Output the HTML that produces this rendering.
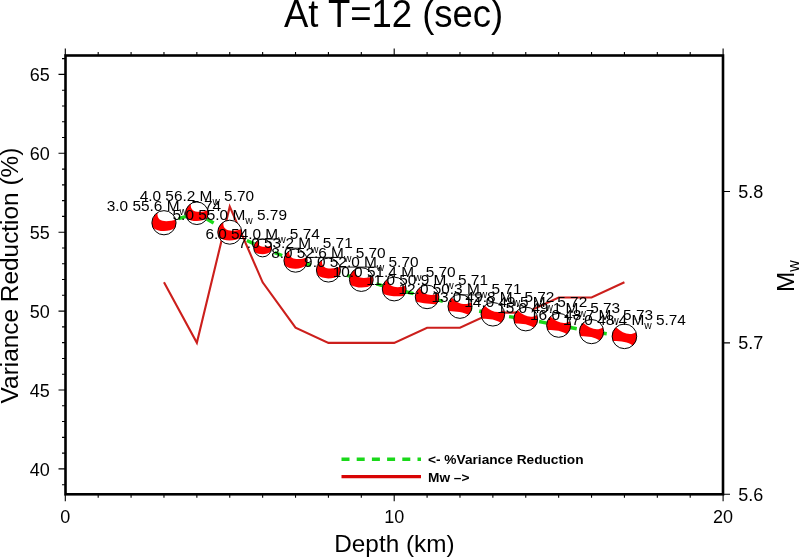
<!DOCTYPE html><html><head><meta charset="utf-8"><style>
html,body{margin:0;padding:0;background:#fff;width:800px;height:558px;overflow:hidden}
svg{display:block;font-family:"Liberation Sans",sans-serif;will-change:transform}
</style></head><body>
<svg width="800" height="558" viewBox="0 0 800 558">
<rect width="800" height="558" fill="#fff"/>
<text transform="translate(393.60 26.80) scale(1 1.04)" font-size="36.5" text-anchor="middle">At T=12 (sec)</text>
<path d="M62.00 484.68H65.50M58.50 468.90H65.50M62.00 453.12H65.50M62.00 437.34H65.50M62.00 421.56H65.50M62.00 405.78H65.50M58.50 390.00H65.50M62.00 374.22H65.50M62.00 358.44H65.50M62.00 342.66H65.50M62.00 326.88H65.50M58.50 311.10H65.50M62.00 295.32H65.50M62.00 279.54H65.50M62.00 263.76H65.50M62.00 247.98H65.50M58.50 232.20H65.50M62.00 216.42H65.50M62.00 200.64H65.50M62.00 184.86H65.50M62.00 169.08H65.50M58.50 153.30H65.50M62.00 137.52H65.50M62.00 121.74H65.50M62.00 105.96H65.50M62.00 90.18H65.50M58.50 74.40H65.50M62.00 58.62H65.50M65.30 494.30V501.30M65.30 55.50V48.50M98.19 494.30V497.80M98.19 55.50V52.00M131.08 494.30V497.80M131.08 55.50V52.00M163.97 494.30V497.80M163.97 55.50V52.00M196.86 494.30V497.80M196.86 55.50V52.00M229.75 494.30V497.80M229.75 55.50V52.00M262.64 494.30V497.80M262.64 55.50V52.00M295.53 494.30V497.80M295.53 55.50V52.00M328.42 494.30V497.80M328.42 55.50V52.00M361.31 494.30V497.80M361.31 55.50V52.00M394.20 494.30V501.30M394.20 55.50V48.50M427.09 494.30V497.80M427.09 55.50V52.00M459.98 494.30V497.80M459.98 55.50V52.00M492.87 494.30V497.80M492.87 55.50V52.00M525.76 494.30V497.80M525.76 55.50V52.00M558.65 494.30V497.80M558.65 55.50V52.00M591.54 494.30V497.80M591.54 55.50V52.00M624.43 494.30V497.80M624.43 55.50V52.00M657.32 494.30V497.80M657.32 55.50V52.00M690.21 494.30V497.80M690.21 55.50V52.00M723.10 494.30V501.30M723.10 55.50V48.50M723.00 494.20H730.00M723.00 342.85H730.00M723.00 191.50H730.00" stroke="#000" stroke-width="1.1" fill="none"/>
<text x="49.70" y="475.80" font-size="18" text-anchor="end">40</text>
<text x="49.70" y="396.90" font-size="18" text-anchor="end">45</text>
<text x="49.70" y="318.00" font-size="18" text-anchor="end">50</text>
<text x="49.70" y="239.10" font-size="18" text-anchor="end">55</text>
<text x="49.70" y="160.20" font-size="18" text-anchor="end">60</text>
<text x="49.70" y="81.30" font-size="18" text-anchor="end">65</text>
<text x="65.30" y="522.60" font-size="18" text-anchor="middle">0</text>
<text x="394.20" y="522.60" font-size="18" text-anchor="middle">10</text>
<text x="723.10" y="522.60" font-size="18" text-anchor="middle">20</text>
<text x="738.30" y="500.70" font-size="18">5.6</text>
<text x="738.30" y="349.35" font-size="18">5.7</text>
<text x="738.30" y="198.00" font-size="18">5.8</text>
<text x="394.40" y="551.80" font-size="24.3" text-anchor="middle">Depth (km)</text>
<text transform="translate(17.7 275.5) rotate(-90)" font-size="24.4" text-anchor="middle">Variance Reduction (%)</text>
<text transform="translate(793.7 292) rotate(-90)" font-size="24.3">M<tspan font-size="16" dy="5.5">w</tspan></text>
<polyline points="163.97,282.31 196.86,342.85 229.75,206.64 262.64,282.31 295.53,327.72 328.42,342.85 361.31,342.85 394.20,342.85 427.09,327.72 459.98,327.72 492.87,312.58 525.76,312.58 558.65,297.44 591.54,297.44 624.43,282.31" fill="none" stroke="#cc1f1c" stroke-width="2.1" stroke-linejoin="miter"/>
<polyline points="163.97,222.73 196.86,213.26 229.75,232.20 262.64,247.98 295.53,260.60 328.42,270.07 361.31,279.54 394.20,289.01 427.09,296.90 459.98,306.37 492.87,314.26 525.76,318.99 558.65,325.30 591.54,331.61 624.43,336.35" fill="none" stroke="#1ad81a" stroke-width="3.4" stroke-dasharray="8 7.2"/>
<circle cx="163.97" cy="222.73" r="12.10" fill="#fff"/><path d="M157.56 212.47C156.10 223.94 170.02 221.52 175.60 219.40A12.10 12.10 0 0 1 174.94 227.85C170.02 232.17 157.92 232.17 153.09 228.04A12.10 12.10 0 0 1 157.56 212.47Z" fill="#f00"/><circle cx="163.97" cy="222.73" r="12.10" fill="none" stroke="#000" stroke-width="1.0"/>
<text x="163.97" y="210.63" font-size="15.4" text-anchor="middle">3.0 55.6 M<tspan font-size="10.3" dy="4.1">w</tspan><tspan dy="-4.1"> 5.74</tspan></text>
<circle cx="196.86" cy="213.26" r="11.30" fill="#fff"/><path d="M190.87 203.68C189.52 214.39 202.51 212.13 207.72 210.15A11.30 11.30 0 0 1 207.10 218.04C202.51 222.08 191.21 222.08 186.70 218.22A11.30 11.30 0 0 1 190.87 203.68Z" fill="#f00"/><circle cx="196.86" cy="213.26" r="11.30" fill="none" stroke="#000" stroke-width="1.0"/>
<text x="196.86" y="200.66" font-size="15.4" text-anchor="middle">4.0 56.2 M<tspan font-size="10.3" dy="4.1">w</tspan><tspan dy="-4.1"> 5.70</tspan></text>
<circle cx="229.75" cy="232.20" r="12.00" fill="#fff"/><path d="M223.39 222.02C221.95 233.40 235.75 231.00 241.29 228.89A12.00 12.00 0 0 1 240.63 237.27C235.75 241.56 223.75 241.56 218.96 237.46A12.00 12.00 0 0 1 223.39 222.02Z" fill="#f00"/><circle cx="229.75" cy="232.20" r="12.00" fill="none" stroke="#000" stroke-width="1.0"/>
<text x="229.75" y="219.70" font-size="15.4" text-anchor="middle">5.0 55.0 M<tspan font-size="10.3" dy="4.1">w</tspan><tspan dy="-4.1"> 5.79</tspan></text>
<circle cx="262.64" cy="247.98" r="8.90" fill="#fff"/><path d="M257.92 240.43C256.85 248.87 267.09 247.09 271.20 245.53A8.90 8.90 0 0 1 270.71 251.74C267.09 254.92 258.19 254.92 254.64 251.88A8.90 8.90 0 0 1 257.92 240.43Z" fill="#f00"/><circle cx="262.64" cy="247.98" r="8.90" fill="none" stroke="#000" stroke-width="1.0"/>
<text x="262.64" y="239.03" font-size="15.4" text-anchor="middle">6.0 54.0 M<tspan font-size="10.3" dy="4.1">w</tspan><tspan dy="-4.1"> 5.74</tspan></text>
<circle cx="295.53" cy="260.60" r="11.60" fill="#fff"/><path d="M289.38 250.77C287.99 261.76 301.33 259.44 306.68 257.41A11.60 11.60 0 0 1 306.04 265.51C301.33 269.65 289.73 269.65 285.10 265.69A11.60 11.60 0 0 1 289.38 250.77Z" fill="#f00"/><circle cx="295.53" cy="260.60" r="11.60" fill="none" stroke="#000" stroke-width="1.0"/>
<text x="295.53" y="248.40" font-size="15.4" text-anchor="middle">7.0 53.2 M<tspan font-size="10.3" dy="4.1">w</tspan><tspan dy="-4.1"> 5.71</tspan></text>
<circle cx="328.42" cy="270.07" r="12.00" fill="#fff"/><path d="M322.06 259.90C320.62 271.27 334.42 268.87 339.96 266.76A12.00 12.00 0 0 1 339.30 275.14C334.42 279.43 322.42 279.43 317.63 275.33A12.00 12.00 0 0 1 322.06 259.90Z" fill="#f00"/><circle cx="328.42" cy="270.07" r="12.00" fill="none" stroke="#000" stroke-width="1.0"/>
<text x="328.42" y="257.67" font-size="15.4" text-anchor="middle">8.0 52.6 M<tspan font-size="10.3" dy="4.1">w</tspan><tspan dy="-4.1"> 5.70</tspan></text>
<circle cx="361.31" cy="279.54" r="11.90" fill="#fff"/><path d="M354.81 269.57C354.17 280.37 367.26 278.41 372.73 276.18A11.90 11.90 0 0 1 371.89 284.99C367.02 288.43 355.60 288.35 350.58 284.69A11.90 11.90 0 0 1 354.81 269.57Z" fill="#f00"/><circle cx="361.31" cy="279.54" r="11.90" fill="none" stroke="#000" stroke-width="1.0"/>
<text x="361.31" y="267.34" font-size="15.4" text-anchor="middle">9.0 52.0 M<tspan font-size="10.3" dy="4.1">w</tspan><tspan dy="-4.1"> 5.70</tspan></text>
<circle cx="394.20" cy="289.01" r="11.90" fill="#fff"/><path d="M387.14 279.43C388.84 288.77 400.15 288.06 405.54 285.41A11.90 11.90 0 0 1 404.06 295.67C399.20 296.72 389.20 296.39 383.38 293.96A11.90 11.90 0 0 1 387.14 279.43Z" fill="#f00"/><circle cx="394.20" cy="289.01" r="11.90" fill="none" stroke="#000" stroke-width="1.0"/>
<text x="394.20" y="277.01" font-size="15.4" text-anchor="middle">10.0 51.4 M<tspan font-size="10.3" dy="4.1">w</tspan><tspan dy="-4.1"> 5.70</tspan></text>
<circle cx="427.09" cy="296.90" r="11.80" fill="#fff"/><path d="M419.73 287.68C422.96 295.95 432.99 296.07 438.29 293.17A11.80 11.80 0 0 1 436.32 304.25C431.57 303.77 422.61 303.27 416.30 301.68A11.80 11.80 0 0 1 419.73 287.68Z" fill="#f00"/><circle cx="427.09" cy="296.90" r="11.80" fill="none" stroke="#000" stroke-width="1.0"/>
<text x="427.09" y="284.60" font-size="15.4" text-anchor="middle">11.0 50.9 M<tspan font-size="10.3" dy="4.1">w</tspan><tspan dy="-4.1"> 5.71</tspan></text>
<circle cx="459.98" cy="306.37" r="12.00" fill="#fff"/><path d="M451.97 297.43C457.58 304.33 465.98 305.71 471.28 302.34A12.00 12.00 0 0 1 468.41 314.90C463.82 312.16 456.14 311.41 448.92 311.03A12.00 12.00 0 0 1 451.97 297.43Z" fill="#f00"/><circle cx="459.98" cy="306.37" r="12.00" fill="none" stroke="#000" stroke-width="1.0"/>
<text x="459.98" y="294.07" font-size="15.4" text-anchor="middle">12.0 50.3 M<tspan font-size="10.3" dy="4.1">w</tspan><tspan dy="-4.1"> 5.71</tspan></text>
<circle cx="492.87" cy="314.26" r="11.80" fill="#fff"/><path d="M484.82 305.63C491.10 311.90 498.77 313.67 503.96 310.22A11.80 11.80 0 0 1 500.83 322.97C496.41 319.57 489.33 318.74 481.97 318.77A11.80 11.80 0 0 1 484.82 305.63Z" fill="#f00"/><circle cx="492.87" cy="314.26" r="11.80" fill="none" stroke="#000" stroke-width="1.0"/>
<text x="492.87" y="302.06" font-size="15.4" text-anchor="middle">13.0 49.8 M<tspan font-size="10.3" dy="4.1">w</tspan><tspan dy="-4.1"> 5.72</tspan></text>
<circle cx="525.76" cy="318.99" r="11.90" fill="#fff"/><path d="M517.64 310.29C523.98 316.61 531.71 318.39 536.94 314.92A11.90 11.90 0 0 1 533.78 327.78C529.33 324.35 522.19 323.51 514.77 323.54A11.90 11.90 0 0 1 517.64 310.29Z" fill="#f00"/><circle cx="525.76" cy="318.99" r="11.90" fill="none" stroke="#000" stroke-width="1.0"/>
<text x="525.76" y="306.89" font-size="15.4" text-anchor="middle">14.0 49.5 M<tspan font-size="10.3" dy="4.1">w</tspan><tspan dy="-4.1"> 5.72</tspan></text>
<circle cx="558.65" cy="325.30" r="12.00" fill="#fff"/><path d="M550.47 316.53C556.85 322.90 564.65 324.70 569.93 321.20A12.00 12.00 0 0 1 566.74 334.16C562.25 330.70 555.05 329.86 547.56 329.89A12.00 12.00 0 0 1 550.47 316.53Z" fill="#f00"/><circle cx="558.65" cy="325.30" r="12.00" fill="none" stroke="#000" stroke-width="1.0"/>
<text x="558.65" y="313.30" font-size="15.4" text-anchor="middle">15.0 49.1 M<tspan font-size="10.3" dy="4.1">w</tspan><tspan dy="-4.1"> 5.73</tspan></text>
<circle cx="591.54" cy="331.61" r="12.10" fill="#fff"/><path d="M583.29 322.76C589.72 329.19 597.59 331.01 602.91 327.48A12.10 12.10 0 0 1 599.70 340.55C595.17 337.06 587.91 336.21 580.36 336.24A12.10 12.10 0 0 1 583.29 322.76Z" fill="#f00"/><circle cx="591.54" cy="331.61" r="12.10" fill="none" stroke="#000" stroke-width="1.0"/>
<text x="591.54" y="319.71" font-size="15.4" text-anchor="middle">16.0 48.7 M<tspan font-size="10.3" dy="4.1">w</tspan><tspan dy="-4.1"> 5.73</tspan></text>
<circle cx="624.43" cy="336.35" r="12.30" fill="#fff"/><path d="M616.04 327.35C622.58 333.89 630.58 335.73 635.99 332.14A12.30 12.30 0 0 1 632.72 345.43C628.12 341.88 620.74 341.02 613.07 341.06A12.30 12.30 0 0 1 616.04 327.35Z" fill="#f00"/><circle cx="624.43" cy="336.35" r="12.30" fill="none" stroke="#000" stroke-width="1.0"/>
<text x="624.43" y="324.55" font-size="15.4" text-anchor="middle">17.0 48.4 M<tspan font-size="10.3" dy="4.1">w</tspan><tspan dy="-4.1"> 5.74</tspan></text>
<path d="M254 239.1H278M285.6 248.2H301M307 257.4H343.5M340 267.1H377M458.8 294.9H480.5" stroke="#000" stroke-width="0.9" fill="none"/>
<rect x="65.50" y="55.50" width="657.50" height="438.80" fill="none" stroke="#000" stroke-width="2.6"/>
<path d="M341.5 459.2H421" stroke="#1ad81a" stroke-width="3.5" stroke-dasharray="8 7.2" fill="none"/>
<path d="M341.5 476.7H421" stroke="#d80404" stroke-width="3.3" fill="none"/>
<text x="428.00" y="464.00" font-size="13.7" font-weight="bold">&lt;- %Variance Reduction</text>
<text x="428.00" y="481.50" font-size="13.7" font-weight="bold">Mw –&gt;</text>
</svg></body></html>
